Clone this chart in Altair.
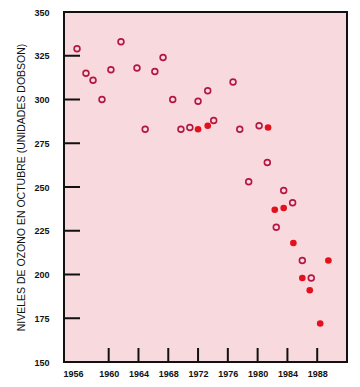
import altair as alt
import pandas as pd

# Open circles (year, Dobson units)
open_years = [1955.75, 1956.95, 1957.9, 1959.1, 1960.3, 1961.65, 1963.8, 1964.9,
              1966.2, 1967.3, 1968.6, 1969.7, 1970.9, 1972.0, 1973.3, 1974.1,
              1976.7, 1977.6, 1978.8, 1980.2, 1981.3, 1982.5, 1983.5, 1984.7,
              1986.0, 1987.2]
open_values = [329, 315, 311, 300, 317, 333, 318, 283,
               316, 324, 300, 283, 284, 299, 305, 288,
               310, 283, 253, 285, 264, 227, 248, 241,
               208, 198]

# Filled circles
filled_years = [1972.0, 1973.3, 1981.4, 1982.3, 1983.5, 1984.8, 1986.0, 1987.0, 1988.4, 1989.5]
filled_values = [283, 285, 284, 237, 238, 218, 198, 191, 172, 208]

y_ticks = [175, 200, 225, 250, 275, 300, 325]
x_ticks = [1960, 1964, 1968, 1972, 1976, 1980, 1984, 1988]
y_labels = [150, 175, 200, 225, 250, 275, 300, 325, 350]
x_labels = [1956, 1960, 1964, 1968, 1972, 1976, 1980, 1984, 1988]

W, H = 283, 350

df_open = pd.DataFrame({"year": open_years, "value": open_values})
df_fill = pd.DataFrame({"year": filled_years, "value": filled_values})
df_yt = pd.DataFrame({"value": y_ticks})
df_xt = pd.DataFrame({"year": x_ticks})

xscale = alt.Scale(domain=[1954, 1992], nice=False, zero=False)
yscale = alt.Scale(domain=[150, 350], nice=False, zero=False)

x_axis = alt.Axis(
    values=x_labels, format="d", title=None, tickSize=0, domain=False, grid=False,
    labelFont="Liberation Sans", labelFontSize=9, labelFontWeight="bold",
    labelColor="#111111", labelPadding=7, labelOverlap=False, labelFlush=False,
    labelOffset={"condition": {"test": "datum.value == 1956", "value": -6}, "value": 0},
)
y_axis = alt.Axis(
    values=y_labels, title="NIVELES DE OZONO EN OCTUBRE (UNIDADES DOBSON)",
    tickSize=0, domain=False, grid=False, labelOverlap=False, labelFlush=False,
    labelFont="Liberation Sans", labelFontSize=9, labelFontWeight="bold",
    labelColor="#111111", labelPadding=15,
    titleFont="Liberation Sans", titleFontSize=10.5, titleFontWeight="normal",
    titleColor="#111111", titlePadding=7,
)

open_pts = alt.Chart(df_open).mark_point(
    filled=False, shape="circle", size=34, strokeWidth=1.6, color="#b3163f", opacity=1
).encode(
    x=alt.X("year:Q", scale=xscale, axis=x_axis),
    y=alt.Y("value:Q", scale=yscale, axis=y_axis),
)

fill_pts = alt.Chart(df_fill).mark_circle(size=44, color="#e3101e", opacity=1).encode(
    x=alt.X("year:Q", scale=xscale, axis=x_axis),
    y=alt.Y("value:Q", scale=yscale, axis=y_axis),
)

ytick_rules = alt.Chart(df_yt).mark_rule(color="#111111", strokeWidth=2).encode(
    y=alt.Y("value:Q", scale=yscale, axis=y_axis),
    x=alt.value(0),
    x2=alt.value(16),
)

xtick_rules = alt.Chart(df_xt).mark_rule(color="#111111", strokeWidth=2).encode(
    x=alt.X("year:Q", scale=xscale, axis=x_axis),
    y=alt.value(H),
    y2=alt.value(H - 14),
)

chart = alt.layer(ytick_rules, xtick_rules, open_pts, fill_pts).properties(
    width=W, height=H,
    autosize=alt.AutoSizeParams(type="none"),
    padding={"left": 56, "top": 4, "right": 5, "bottom": 18},
    background="white",
).configure_view(
    fill="#f8d9de", stroke="#111111", strokeWidth=2
).configure_axis(
    labelOverlap=False
)

chart.save("out.html", embed_options={"renderer": "svg", "actions": False})
